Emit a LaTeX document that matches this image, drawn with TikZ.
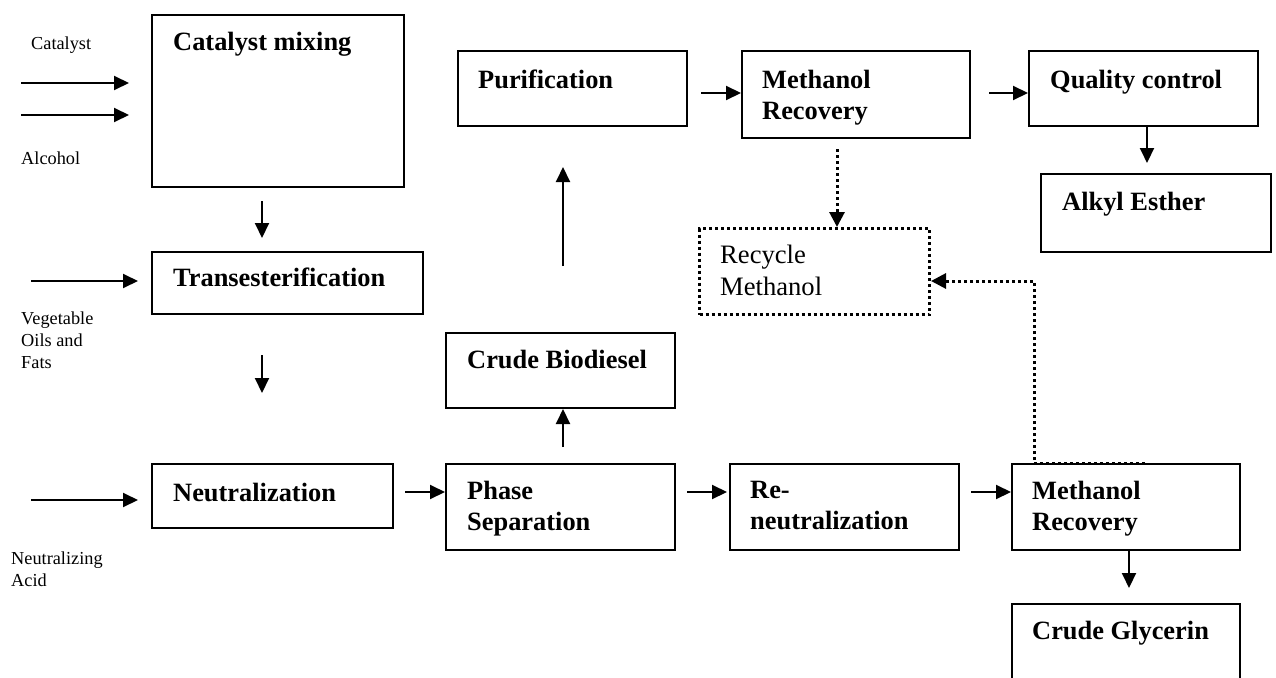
\documentclass[tikz,border=0pt]{standalone}
\usepackage{fontspec}
\setmainfont{Liberation Serif}
\usetikzlibrary{arrows.meta,calc}
\tikzset{
  box/.style={draw, line width=2pt, inner sep=0pt, anchor=north west},
  dbox/.style={draw, line width=3pt, dash pattern=on 3pt off 3pt, inner sep=0pt, anchor=north west},
  btxt/.style={anchor=north west, inner sep=0pt, xshift=22pt, yshift=-18pt, align=left,
    font=\fontsize{26.4pt}{31pt}\selectfont\bfseries},
  rtxt/.style={anchor=north west, inner sep=0pt, xshift=22pt, yshift=-18pt, align=left,
    font=\fontsize{26.6pt}{32pt}\selectfont},
  side/.style={anchor=west, inner sep=0pt, align=left, font=\fontsize{18.3pt}{22pt}\selectfont},
  arr/.style={line width=2pt, -{Triangle[length=15pt,width=14pt]}},
  darr/.style={line width=3pt, dash pattern=on 3pt off 3pt, -{Triangle[length=15pt,width=15pt]}},
}
\begin{document}
\begin{tikzpicture}[x=1pt,y=-1pt]
\useasboundingbox (0,0) rectangle (1276,677);
% boxes
\node[box, minimum width=252pt, minimum height=172pt, label={[btxt]north west:Catalyst mixing}] (cm) at (151,14) {};
\node[box, minimum width=271pt, minimum height=62pt, label={[btxt,yshift=1pt]north west:Transesterification}] (tr) at (151,251) {};
\node[box, minimum width=241pt, minimum height=64pt, label={[btxt,yshift=-2pt]north west:Neutralization}] (ne) at (151,463) {};
\node[box, minimum width=229pt, minimum height=86pt, label={[btxt]north west:Phase\\Separation}] (ps) at (445,463) {};
\node[box, minimum width=229pt, minimum height=86pt, label={[btxt,xshift=-1pt]north west:Re-\\neutralization}] (rn) at (729,463) {};
\node[box, minimum width=228pt, minimum height=86pt, label={[btxt,xshift=-1pt]north west:Methanol\\Recovery}] (mb) at (1011,463) {};
\node[box, minimum width=228pt, minimum height=110pt, label={[btxt,xshift=-1pt]north west:Crude Glycerin}] (cg) at (1011,603) {};
\node[box, minimum width=229pt, minimum height=75pt, label={[btxt]north west:Crude Biodiesel}] (cb) at (445,332) {};
\node[box, minimum width=229pt, minimum height=75pt, label={[btxt,xshift=-1pt,yshift=-2pt]north west:Purification}] (pu) at (457,50) {};
\node[box, minimum width=228pt, minimum height=87pt, label={[btxt,xshift=-1pt,yshift=-2pt]north west:Methanol\\Recovery}] (mt) at (741,50) {};
\node[box, minimum width=229pt, minimum height=75pt, label={[btxt,yshift=-2pt]north west:Quality control}] (qc) at (1028,50) {};
\node[box, minimum width=230pt, minimum height=78pt, label={[btxt,yshift=-1pt]north west:Alkyl Esther}] (ae) at (1040,173) {};
\node[dbox, minimum width=230pt, minimum height=86pt, label={[rtxt]north west:Recycle\\Methanol}] (rc) at (698,227) {};
% side labels
\node[side] (lcat) at (31,45) {Catalyst};
\node[side] (lalc) at (21,158) {Alcohol};
\node[side] (lveg) at (21,340) {Vegetable\\Oils and\\Fats};
\node[side] (lacid) at (11,569) {Neutralizing\\Acid};
% coordinates
\coordinate (inCat) at (21,83);
\coordinate (inAlc) at (21,115);
\coordinate (inVeg) at (31,281);
\coordinate (inAcid) at (31,500);
\coordinate (xa) at (262,0);
\coordinate (xb) at (1129,0);
\coordinate (xc) at (563,0);
\coordinate (xd) at (1147,0);
\coordinate (xe) at (837,0);
\coordinate (xf) at (1145,0);
\coordinate (xg) at (1034,0);
\coordinate (r1) at (0,492);
\coordinate (r2) at (0,93);
\coordinate (yh) at (0,281);
% feed arrows
\draw[arr, shorten >=22pt] (inCat) -- (inCat -| cm.west);
\draw[arr, shorten >=22pt] (inAlc) -- (inAlc -| cm.west);
\draw[arr, shorten >=13pt] (inVeg) -- (inVeg -| tr.west);
\draw[arr, shorten >=13pt] (inAcid) -- (inAcid -| ne.west);
% process arrows
\draw[arr, shorten <=13pt, shorten >=13pt] (cm.south -| xa) -- (tr.north -| xa);
\draw[arr, shorten <=40pt, shorten >=70pt] (tr.south -| xa) -- (ne.north -| xa);
\draw[arr, shorten <=11pt] (ne.east |- r1) -- (ps.west |- r1);
\draw[arr, shorten <=11pt, shorten >=2pt] (ps.east |- r1) -- (rn.west |- r1);
\draw[arr, shorten <=11pt] (rn.east |- r1) -- (mb.west |- r1);
\draw[arr, shorten >=15pt] (mb.south -| xb) -- (cg.north -| xb);
\draw[arr, shorten <=16pt] (ps.north -| xc) -- (cb.south -| xc);
\draw[arr, shorten <=66pt, shorten >=40pt] (cb.north -| xc) -- (pu.south -| xc);
\draw[arr, shorten <=13pt] (pu.east |- r2) -- (mt.west |- r2);
\draw[arr, shorten <=18pt] (mt.east |- r2) -- (qc.west |- r2);
\draw[arr, shorten >=10pt] (qc.south -| xd) -- (ae.north -| xd);
% recycle arrows
\draw[darr, shorten <=10pt] (mt.south -| xe) -- (rc.north -| xe);
\draw[darr] (mb.north -| xf) -- (mb.north -| xg) -- (xg |- yh) -- (rc.east |- yh);
\end{tikzpicture}
\end{document}
